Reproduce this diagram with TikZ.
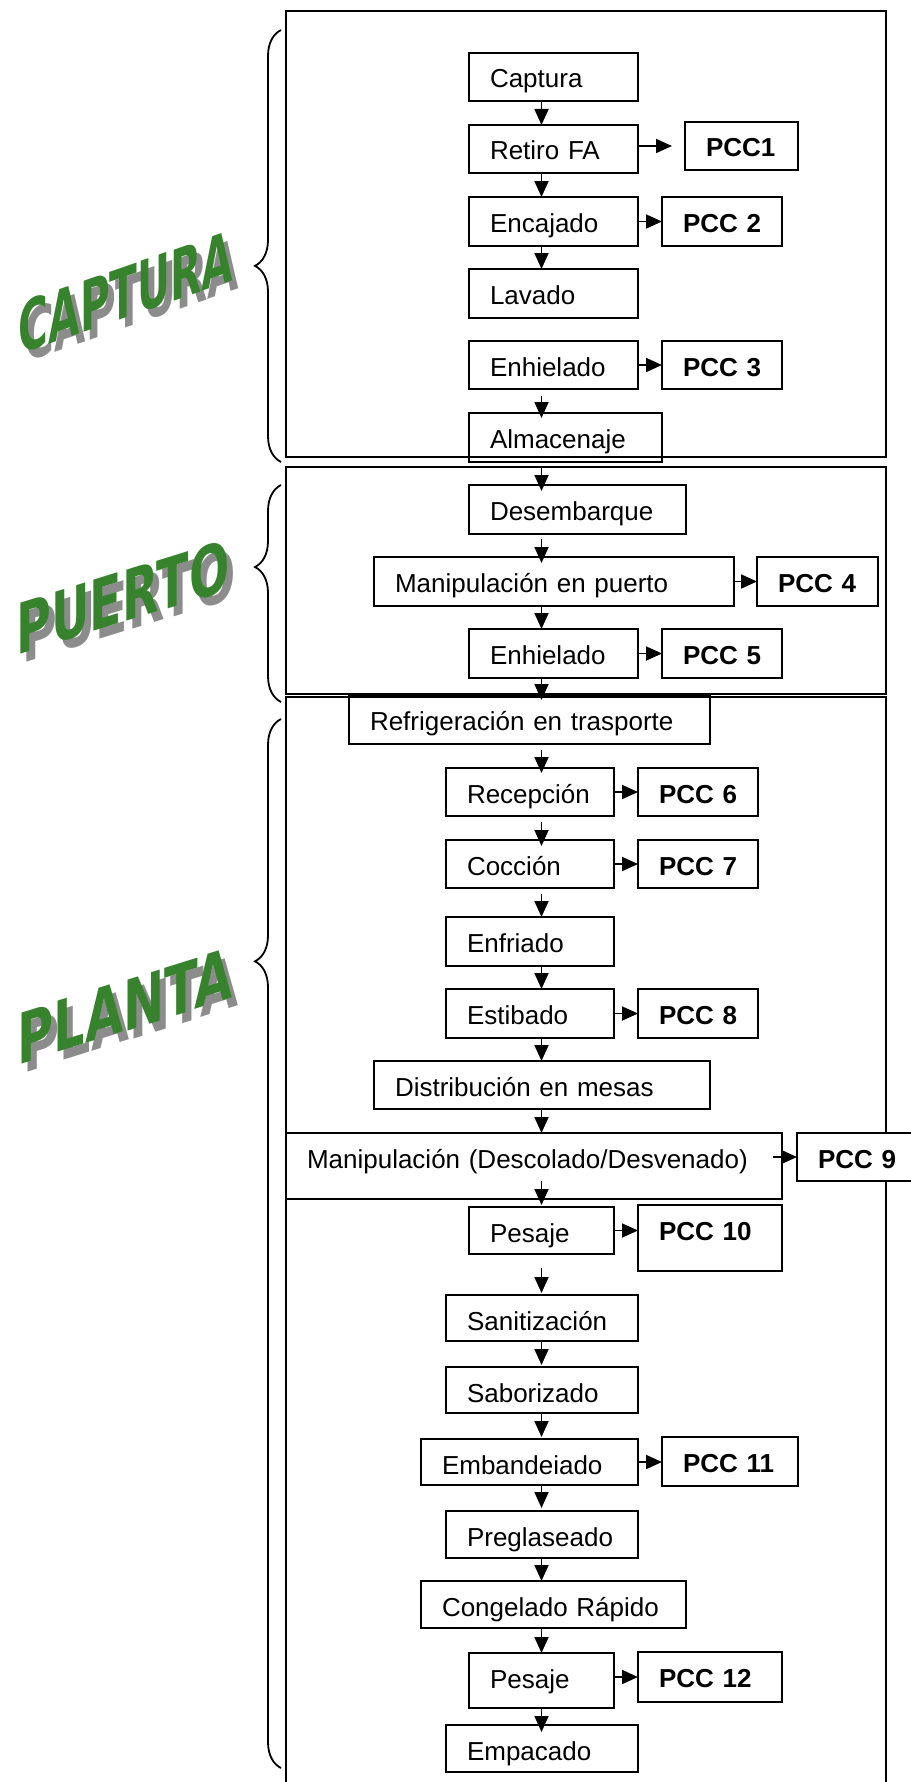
\documentclass[tikz,border=0pt]{standalone}
\usepackage{fontspec}
\setmainfont{Liberation Sans}
\newfontfamily\artefont{DejaVu Sans}
\usepackage{tikz}
\usetikzlibrary{arrows.meta, decorations.pathreplacing}
\definecolor{verdeArte}{RGB}{55,130,45}
\definecolor{grisSombra}{RGB}{140,140,140}

\begin{document}
\begin{tikzpicture}[
  x=1pt, y=-1pt,
  caja/.style 2 args={draw, line width=1.8pt, anchor=north west, outer sep=0pt,
    inner xsep=21pt, inner ysep=0pt, align=left, text width=#1-42pt,
    text height=35pt, text depth=#2-35pt, font=\fontsize{26}{30}\selectfont},
  pcc/.style 2 args={caja={#1}{#2}, font=\fontsize{26}{30}\selectfont\bfseries},
  flecha/.style={line width=1.8pt, -{Triangle[length=16pt, width=14pt]}},
  marco/.style={line width=1.8pt},
  llave/.style={line width=1.8pt, decorate, decoration={brace, amplitude=26pt, aspect=#1}},
  arte/.style={font=\artefont\bfseries\fontsize{70}{70}\selectfont, text=verdeArte, inner sep=0pt},
  sombra/.style={arte, text=grisSombra},
]
  \useasboundingbox (0,0) rectangle (910,1782);

  \draw[marco] (286,11) rectangle (886,457);
  \draw[marco] (286,467) rectangle (886,694);
  \draw[marco] (286,697) rectangle (886,1800);

  \draw[llave=0.454] (281,462) -- (281,30);
  \draw[llave=0.622] (281,702) -- (281,485);
  \draw[llave=0.769] (281,1768) -- (281,719);

  \node[sombra, xscale=0.58, yslant=0.2] at (132,300) (capturaS) {CAPTURA};
  \node[arte, xscale=0.58, yslant=0.2] at (126,292) (captura) {CAPTURA};
  \node[sombra, xscale=0.677, yslant=0.21] at (129,605) (puertoS) {PUERTO};
  \node[arte, xscale=0.677, yslant=0.21] at (123,597) (puerto) {PUERTO};
  \node[sombra, xscale=0.704, yslant=0.22] at (131,1014) (plantaS) {PLANTA};
  \node[arte, xscale=0.704, yslant=0.22] at (125,1006) (planta) {PLANTA};

  \node[caja={169}{48}] at (469,53) (cap) {Captura};
  \node[caja={169}{48}] at (469,125) (ret) {Retiro FA};
  \node[pcc={113}{48}] at (685,122) (pcc1) {PCC1};
  \node[caja={169}{49}] at (469,197) (enc) {Encajado};
  \node[pcc={120}{49}] at (662,197) (pcc2) {PCC~2};
  \node[caja={169}{49}] at (469,269) (lav) {Lavado};
  \node[caja={169}{48}] at (469,341) (enh) {Enhielado};
  \node[pcc={120}{48}] at (662,341) (pcc3) {PCC~3};
  \node[caja={193}{49}] at (469,413) (alm) {Almacenaje};

  \node[caja={217}{49}] at (469,485) (des) {Desembarque};
  \node[caja={360}{49}] at (374,557) (manp) {Manipulación en puerto};
  \node[pcc={121}{49}] at (757,557) (pcc4) {PCC~4};
  \node[caja={169}{49}] at (469,629) (enh2) {Enhielado};
  \node[pcc={120}{49}] at (662,629) (pcc5) {PCC~5};

  \node[caja={361}{49}] at (349,695) (ref) {Refrigeración en trasporte};
  \node[caja={168}{48}] at (446,768) (rec) {Recepción};
  \node[pcc={120}{48}] at (638,768) (pcc6) {PCC~6};
  \node[caja={168}{48}] at (446,840) (coc) {Cocción};
  \node[pcc={120}{48}] at (638,840) (pcc7) {PCC~7};
  \node[caja={168}{49}] at (446,917) (enf) {Enfriado};
  \node[caja={168}{49}] at (446,989) (est) {Estibado};
  \node[pcc={120}{49}] at (638,989) (pcc8) {PCC~8};
  \node[caja={336}{48}] at (374,1061) (dis) {Distribución en mesas};
  \node[caja={496}{66}] at (286,1133) (mand) {Manipulación (Descolado/Desvenado)};
  \node[pcc={130}{48}, fill=white] at (797,1133) (pcc9) {PCC~9};
  \node[caja={145}{47}] at (469,1207) (pes) {Pesaje};
  \node[pcc={144}{66}] at (638,1205) (pcc10) {PCC~10};
  \node[caja={192}{46}] at (446,1295) (san) {Sanitización};
  \node[caja={192}{46}] at (446,1367) (sab) {Saborizado};
  \node[caja={217}{46}] at (421,1439) (emb) {Embandeiado};
  \node[pcc={136}{49}] at (662,1437) (pcc11) {PCC~11};
  \node[caja={192}{47}] at (446,1511) (pre) {Preglaseado};
  \node[caja={265}{47}] at (421,1581) (con) {Congelado Rápido};
  \node[caja={145}{55}] at (469,1653) (pes2) {Pesaje};
  \node[pcc={144}{50}] at (638,1652) (pcc12) {PCC~12};
  \node[caja={192}{47}] at (446,1725) (emp) {Empacado};

  \coordinate (eje) at (541.5,0);
  \draw[flecha] (cap.south -| eje) -- (ret.north -| eje);
  \draw[flecha] (ret.south -| eje) -- (enc.north -| eje);
  \draw[flecha] (enc.south -| eje) -- (lav.north -| eje);
  \draw[flecha] ([yshift=-7pt]enh.south -| eje) -- ([yshift=-5pt]alm.north -| eje);
  \draw[flecha] ([yshift=-6pt]alm.south -| eje) -- ([yshift=-6pt]des.north -| eje);
  \draw[flecha] ([yshift=-5pt]des.south -| eje) -- ([yshift=-6pt]manp.north -| eje);
  \draw[flecha] (manp.south -| eje) -- (enh2.north -| eje);
  \draw[flecha] (enh2.south -| eje) -- ([yshift=-5pt]ref.north -| eje);
  \draw[flecha] ([yshift=-6pt]ref.south -| eje) -- ([yshift=-5pt]rec.north -| eje);
  \draw[flecha] ([yshift=-6pt]rec.south -| eje) -- ([yshift=-6pt]coc.north -| eje);
  \draw[flecha] ([yshift=-6pt]coc.south -| eje) -- (enf.north -| eje);
  \draw[flecha] (enf.south -| eje) -- (est.north -| eje);
  \draw[flecha] (est.south -| eje) -- (dis.north -| eje);
  \draw[flecha] (dis.south -| eje) -- (mand.north -| eje);
  \draw[flecha] ([yshift=18pt]mand.south -| eje) -- ([yshift=2pt]pes.north -| eje);
  \draw[flecha] ([yshift=-14pt]pes.south -| eje) -- ([yshift=2pt]san.north -| eje);
  \draw[flecha] (san.south -| eje) -- ([yshift=2pt]sab.north -| eje);
  \draw[flecha] (sab.south -| eje) -- ([yshift=2pt]emb.north -| eje);
  \draw[flecha] (emb.south -| eje) -- ([yshift=3pt]pre.north -| eje);
  \draw[flecha] (pre.south -| eje) -- (con.north -| eje);
  \draw[flecha] (con.south -| eje) -- (pes2.north -| eje);
  \draw[flecha] (pes2.south -| eje) -- ([yshift=-7pt]emp.north -| eje);

  \draw[flecha, shorten >=13pt] (ret.east |- pcc1.west) -- (pcc1.west);
  \draw[flecha] (enc.east) -- (pcc2.west);
  \draw[flecha] (enh.east) -- (pcc3.west);
  \draw[flecha] (manp.east) -- (pcc4.west);
  \draw[flecha] (enh2.east) -- (pcc5.west);
  \draw[flecha] (rec.east) -- (pcc6.west);
  \draw[flecha] (coc.east) -- (pcc7.west);
  \draw[flecha] (est.east) -- (pcc8.west);
  \draw[flecha] ([xshift=-9pt]mand.east |- pcc9.west) -- (pcc9.west);
  \draw[flecha] (pes.east) -- (pes.east -| pcc10.west);
  \draw[flecha] (emb.east) -- (emb.east -| pcc11.west);
  \draw[flecha] (pes2.east |- pcc12.west) -- (pcc12.west);
\end{tikzpicture}
\end{document}
